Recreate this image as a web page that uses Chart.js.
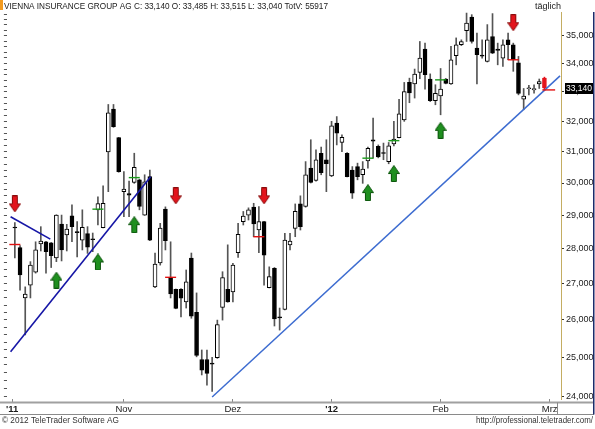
<!DOCTYPE html>
<html><head><meta charset="utf-8">
<script src="https://cdn.jsdelivr.net/npm/chart.js@4.4.0/dist/chart.umd.min.js"></script>
<style>html,body{margin:0;padding:0;background:#fff;overflow:hidden}#wrap{position:relative;width:595px;height:429px}</style>
</head><body><div id="wrap"><canvas id="c" width="595" height="429"></canvas></div>
<script>
const headerText = "VIENNA INSURANCE GROUP AG C: 33,140 O: 33,485 H: 33,515 L: 33,040 TotV: 55917";
const periodText = "täglich";
const copyrightText = "© 2012 TeleTrader Software AG";
const urlText = "http://professional.teletrader.com/";
const lastLabel = "33,140";

// daily candles, Oct 2011 – Mar 2012
const openP  = [28.65,28.04,26.60,26.96,27.33,28.15,28.21,28.18,27.74,28.74,28.41,28.99,28.51,28.26,28.45,28.30,29.17,28.63,30.99,32.41,
                31.46,29.73,29.67,30.02,30.10,29.01,30.20,26.91,27.59,29.19,27.18,26.84,26.84,26.49,27.73,26.20,24.94,24.94,24.83,24.99,
                26.34,26.84,26.77,27.89,28.81,29.01,29.25,28.56,28.81,26.89,27.44,26.07,26.28,28.12,28.61,29.35,29.27,30.47,30.08,30.95,
                30.74,30.22,31.94,31.30,30.95,30.41,30.52,30.26,30.70,31.39,31.17,30.96,30.68,31.25,31.46,32.05,33.33,33.28,33.68,34.51,
                33.45,32.70,32.86,33.45,33.28,34.28,34.67,35.19,35.69,34.55,34.29,34.07,34.97,34.51,34.19,34.85,34.67,34.02,32.75,33.11,
                33.07,33.28,33.485];
const highP  = [28.78,28.10,26.91,27.63,28.21,28.66,28.22,28.19,29.02,29.01,28.73,29.32,28.81,29.17,28.66,28.47,29.57,29.91,32.57,32.57,
                31.47,30.36,30.06,30.95,30.12,30.26,30.41,27.88,28.76,29.26,28.21,26.85,26.86,27.39,27.88,26.74,25.19,25.19,25.00,25.99,
                27.34,28.12,27.58,28.76,29.12,29.23,29.37,29.27,28.82,27.48,27.46,26.32,28.46,28.46,29.35,29.60,30.68,31.39,31.06,31.15,
                31.39,32.00,32.16,31.55,30.97,30.52,30.63,30.68,31.15,32.11,31.22,31.28,31.30,32.00,32.75,33.33,33.48,33.80,34.79,34.73,
                33.63,33.25,33.82,33.47,34.61,34.92,34.85,35.84,35.78,35.10,34.85,35.41,35.82,34.73,34.85,35.10,34.73,34.25,33.12,33.23,
                33.25,33.45,33.515];
const lowP   = [27.74,26.82,25.59,26.60,27.30,27.94,27.30,27.46,27.63,27.65,27.94,28.21,27.77,27.97,27.87,27.92,28.71,28.62,29.73,31.80,
                30.34,28.96,28.96,29.99,29.17,29.00,28.24,26.89,27.53,27.97,26.60,26.30,26.08,26.32,26.04,25.01,24.54,24.28,24.12,24.97,
                25.99,26.48,26.49,27.75,28.71,28.86,28.36,27.89,26.96,26.88,25.83,25.72,26.27,27.97,28.36,28.56,29.25,30.00,30.06,30.26,
                29.73,30.20,31.22,31.00,30.19,29.52,30.10,29.99,30.47,30.79,30.80,30.74,30.61,31.19,31.45,32.00,32.63,32.79,33.46,33.10,
                32.67,32.56,32.22,33.28,33.26,33.95,34.64,34.79,34.73,33.28,34.19,34.05,34.35,33.95,33.89,34.13,33.72,32.90,32.39,32.90,
                32.96,33.12,33.04];
const closeP = [28.62,27.25,26.71,27.53,27.97,28.23,27.92,27.80,29.01,27.97,28.59,28.66,28.48,28.64,28.05,28.27,29.36,29.37,32.29,31.82,
                30.36,29.81,29.62,30.50,29.27,30.04,28.26,27.56,28.62,28.24,26.71,26.31,26.59,27.05,26.10,25.05,24.66,24.58,24.82,25.87,
                27.17,26.49,27.53,28.43,28.98,29.17,28.74,28.81,27.82,27.20,26.02,26.05,28.26,28.23,29.12,28.66,30.26,30.02,30.74,30.33,
                30.61,31.85,31.61,31.47,30.20,29.68,30.20,30.44,31.11,31.34,30.83,30.94,31.19,31.41,32.25,33.01,32.97,33.62,34.19,33.60,
                32.70,32.95,33.10,33.30,34.13,34.67,34.79,35.47,34.79,34.31,34.26,34.85,34.37,34.47,34.67,34.67,34.13,32.95,32.86,33.13,
                33.12,33.36,33.14];

const monthTicks  = [0.5, 22, 43, 62, 83, 104];
const monthLabels = ["'11", "Nov", "Dez", "'12", "Feb", "Mrz"];
const yTicks = [24,25,26,27,28,29,30,31,32,33,34,35];

// signals (candle index, price)
const sellArrowIdx   = [1, 32, 49, 97];
const sellArrowPrice = [29.35, 29.60, 29.60, 35.48];
const buyArrowIdx    = [9, 17, 24, 69, 74, 83];
const buyArrowPrice  = [27.10, 27.62, 28.72, 29.70, 30.30, 31.70];
const sellDashIdx    = [1, 31, 48, 97];
const sellDashPrice  = [28.13, 27.18, 28.36, 34.13];
const buyDashIdx     = [17, 24, 69, 74, 83];
const buyDashPrice   = [29.19, 30.17, 30.79, 31.36, 33.42];
const lastDashX      = [102.6, 105.06];
const lastDashPrice  = [33.07, 33.07];

// trend lines (candle index, price)
const trend1X = [0.18, 27.15], trend1P = [25.14, 30.20];
const trend2X = [0.18, 7.83],  trend2P = [28.96, 28.29];
const trend3X = [39.0, 106.0], trend3P = [23.98, 33.56];

const FONT = '"Liberation Sans", Arial, sans-serif';
const n = openP.length;
const idx = openP.map((_, i) => i + 1);
const isLast = i => i === n - 1;

function arrowImg(fill, edge, down) {
  const c = document.createElement('canvas'); c.width = 12; c.height = 17;
  const g = c.getContext('2d');
  g.beginPath();
  if (down) {
    g.moveTo(3.5,0.5); g.lineTo(8.5,0.5); g.lineTo(8.5,8.5); g.lineTo(11.5,8.5);
    g.lineTo(6,16.5); g.lineTo(0.5,8.5); g.lineTo(3.5,8.5);
  } else {
    g.moveTo(3.5,16.5); g.lineTo(8.5,16.5); g.lineTo(8.5,8.5); g.lineTo(11.5,8.5);
    g.lineTo(6,0.5); g.lineTo(0.5,8.5); g.lineTo(3.5,8.5);
  }
  g.closePath();
  g.fillStyle = fill; g.fill();
  g.strokeStyle = edge; g.lineWidth = 1; g.stroke();
  return c;
}
const redArrow = arrowImg('#e3141c', '#8a0a0a', true);
const greenArrow = arrowImg('#1f8f1f', '#0b540b', false);

const pts = (xs, ys) => xs.map((x, i) => ({x, y: ys[i]}));

const yl = [];
for (let v = 24; v <= 35.85; v += 0.2) yl.push({value: +v.toFixed(2)});

const deco = {
  id: 'deco',
  afterDraw(chart) {
    const {ctx, chartArea: a, scales: {y}} = chart;
    ctx.save();
    ctx.fillStyle = '#f39a1e'; ctx.fillRect(0, 0, 3, 10);
    ctx.font = '9px ' + FONT;
    ctx.fillStyle = '#1a1a1a'; ctx.textBaseline = 'middle';
    ctx.textAlign = 'left'; ctx.fillText(headerText, 4, 7, 324);
    ctx.textAlign = 'right'; ctx.fillText(periodText, 561, 7);
    const bt = a.bottom + 3.5, bb = 414.5;
    ctx.strokeStyle = '#a0a0a0'; ctx.lineWidth = 2;
    ctx.beginPath(); ctx.moveTo(0, bt); ctx.lineTo(594, bt); ctx.stroke();
    ctx.strokeStyle = '#8a8a8a'; ctx.lineWidth = 1;
    ctx.beginPath(); ctx.moveTo(0, bb); ctx.lineTo(594, bb); ctx.stroke();
    ctx.beginPath(); ctx.moveTo(Math.round(a.right) - 3.5, bt); ctx.lineTo(Math.round(a.right) - 3.5, bb); ctx.stroke();
    ctx.strokeStyle = '#1d2b6b'; ctx.lineWidth = 1.5;
    ctx.beginPath(); ctx.moveTo(593.75, 12); ctx.lineTo(593.75, bb); ctx.stroke();
    ctx.fillStyle = '#333';
    ctx.textAlign = 'left'; ctx.fillText(copyrightText, 2, 421, 117);
    ctx.textAlign = 'right'; ctx.fillText(urlText, 593, 421, 117);
    const py = y.getPixelForValue(closeP[n - 1]);
    ctx.fillStyle = '#000'; ctx.fillRect(565, Math.round(py) - 5, 28, 11);
    ctx.fillStyle = '#fff'; ctx.textAlign = 'left'; ctx.fillText(lastLabel, 566, Math.round(py) + 0.5, 26);
    ctx.restore();
  }
};

new Chart(document.getElementById('c'), {
  type: 'bar',
  data: {
    datasets: [
      {type:'scatter', order:-2, data: pts(sellArrowIdx, sellArrowPrice), pointStyle: redArrow, xAxisID:'x', yAxisID:'y'},
      {type:'scatter', order:-2, data: pts(buyArrowIdx, buyArrowPrice), pointStyle: greenArrow, xAxisID:'x', yAxisID:'y'},
      {type:'scatter', order:-1, data: pts(sellDashIdx, sellDashPrice), pointStyle:'line', pointRadius:5.5, pointBorderWidth:1.4, pointBorderColor:'#e01010', xAxisID:'x', yAxisID:'y'},
      {type:'scatter', order:-1, data: pts(buyDashIdx, buyDashPrice), pointStyle:'line', pointRadius:5.5, pointBorderWidth:1.4, pointBorderColor:'#1c9a1c', xAxisID:'x', yAxisID:'y'},
      {type:'line', order:-1, data: pts(lastDashX, lastDashPrice), borderColor:'#e01010', borderWidth:1.4, pointRadius:0, xAxisID:'x', yAxisID:'y'},
      {type:'line', order:0, data: pts(trend1X, trend1P), borderColor:'#1616a6', borderWidth:1.6, pointRadius:0, xAxisID:'x', yAxisID:'y'},
      {type:'line', order:0, data: pts(trend2X, trend2P), borderColor:'#1616a6', borderWidth:1.6, pointRadius:0, xAxisID:'x', yAxisID:'y'},
      {type:'line', order:0, data: pts(trend3X, trend3P), borderColor:'#3d6cd0', borderWidth:1.5, pointRadius:0, xAxisID:'x', yAxisID:'y'},
      {order:1, grouped:false, barThickness:4, borderWidth:1, borderSkipped:false, minBarLength:1,
       data: idx.map((x, i) => ({x, y:[Math.min(openP[i], closeP[i]), Math.max(openP[i], closeP[i])]})),
       backgroundColor: idx.map((x, i) => isLast(i) ? '#e3141c' : (closeP[i] >= openP[i] ? '#ffffff' : '#000000')),
       borderColor: idx.map((x, i) => isLast(i) ? '#e3141c' : '#000000'),
       xAxisID:'x', yAxisID:'y'},
      {order:2, grouped:false, barThickness:1, borderWidth:0,
       data: idx.map((x, i) => ({x, y:[lowP[i], highP[i]]})),
       backgroundColor: idx.map((x, i) => isLast(i) ? '#e3141c' : '#555555'),
       xAxisID:'x', yAxisID:'y'}
    ]
  },
  options: {
    responsive:false, animation:false, devicePixelRatio:1,
    layout:{padding:{top:12, left:0, right:0, bottom:0}},
    plugins:{legend:{display:false}, tooltip:{enabled:false}, title:{display:false}},
    scales:{
      x:{type:'linear', min:-0.53, max:106.19, offset:false,
         afterBuildTicks: s => { s.ticks = monthTicks.map(v => ({value:v})); },
         afterFit: s => { s.height = 30; },
         ticks:{autoSkip:false, maxRotation:0, padding:2, color:'#1a1a1a',
                font: c => ({family:FONT, size:9.5, weight: (monthLabels[c.index] || '').startsWith("'") ? 'bold' : 'normal'}),
                callback: (v, i) => monthLabels[i]},
         grid:{drawOnChartArea:false, offset:false, drawTicks:true, tickLength:3, color:'#888'},
         border:{display:false}},
      y:{type:'logarithmic', position:'right', min:23.93, max:35.88,
         afterBuildTicks: s => { s.ticks = yTicks.map(v => ({value:v})); },
         afterFit: s => { s.width = 34; },
         ticks:{padding:2, color:'#1a1a1a', font:{family:FONT, size:9},
                callback: v => v.toFixed(3).replace('.', ',')},
         grid:{drawOnChartArea:false, drawTicks:true, tickLength:3, color:'#333'},
         border:{display:true, color:'#c4ad62', dash:[1,1], width:1}},
      yl:{type:'logarithmic', position:'left', min:23.93, max:35.88,
         afterBuildTicks: s => { s.ticks = yl.slice(); },
         afterFit: s => { s.width = 3; },
         ticks:{display:false},
         grid:{drawOnChartArea:false, drawTicks:true, tickLength:3, color:'#555'},
         border:{display:false}}
    }
  },
  plugins:[deco]
});
</script>
</body></html>
